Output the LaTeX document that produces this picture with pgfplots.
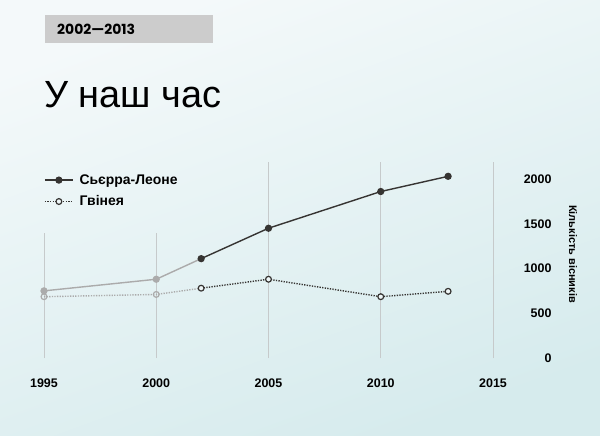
\documentclass[border=0pt]{standalone}
\usepackage{pgfplots}
\pgfplotsset{compat=1.18}
\usepackage{fontspec}
\setmainfont{Liberation Sans}
\newfontfamily\poppins{Poppins}

\definecolor{bgtop}{HTML}{F4F9FA}
\definecolor{bgbot}{HTML}{D6EBED}
\definecolor{boxgray}{HTML}{CCCCCC}
\definecolor{darkline}{HTML}{363432}
\definecolor{lightline}{HTML}{ABABAB}
\definecolor{gridc}{HTML}{C6CACB}
\definecolor{openfill}{HTML}{EEF6F7}

\begin{document}
\begin{tikzpicture}
\shade[top color=bgtop, bottom color=bgbot, shading angle=20] (0bp,0bp) rectangle (600bp,436bp);
\useasboundingbox (0bp,0bp) rectangle (600bp,436bp);
\coordinate (axorig) at (44bp,78bp);

% header box and title
\fill[boxgray] (45bp,421bp) rectangle (213bp,393bp);
\node[anchor=west, inner sep=0pt, font=\poppins\bfseries\fontsize{14}{14}\selectfont] at (57bp,407bp) {2002—2013};
\node[anchor=base west, inner sep=0pt, font=\fontsize{38}{38}\selectfont] at (44bp,328bp) {У наш час};

\begin{axis}[
    at={(axorig)}, anchor=south west,
    scale only axis, width=449bp, height=179bp,
    xmin=1995, xmax=2015, ymin=0, ymax=2000,
    clip=false,
    axis line style={draw=none},
    major tick length=0pt,
    xtick={1995,2000,2005,2010,2015},
    ytick={0,500,1000,1500,2000},
    yticklabel pos=right,
    /pgf/number format/1000 sep={},
    /pgf/number format/assume math mode=true,
    xticklabel style={font=\bfseries\fontsize{12.5}{12.5}\selectfont, anchor=base, yshift=-29.5bp},
    yticklabel style={font=\bfseries\fontsize{12.5}{12.5}\selectfont, anchor=east, xshift=62bp},
    legend style={draw=none, fill=none, at={(axis cs:1995,2075)}, anchor=north west,
        font=\bfseries\fontsize{14}{14}\selectfont, row sep=6bp, inner sep=0pt,
        nodes={inner sep=2bp},
        /tikz/every odd column/.append style={column sep=4bp}},
    legend cell align=left,
    legend image code/.code={\draw[mark repeat=2,mark phase=2] plot coordinates {(0bp,0bp) (14bp,0bp) (28bp,0bp)};},
]
% vertical grid lines
\draw[gridc, line width=0.7bp] (axis cs:1995,0) -- (axis cs:1995,1400);
\draw[gridc, line width=0.7bp] (axis cs:2000,0) -- (axis cs:2000,1400);
\draw[gridc, line width=0.7bp] (axis cs:2005,0) -- (axis cs:2005,2190);
\draw[gridc, line width=0.7bp] (axis cs:2010,0) -- (axis cs:2010,2190);
\draw[gridc, line width=0.7bp] (axis cs:2015,0) -- (axis cs:2015,2190);

% Sierra Leone, early years
\addplot[lightline, line width=1.4bp, mark=*, mark size=2.9bp, mark indices={1,2},
    mark options={fill=lightline, draw=lightline}, forget plot]
    coordinates {(1995,750) (2000,880) (2002,1110)};
% Guinea, early years
\addplot[lightline, line width=1.4bp, dash pattern=on 1.3bp off 1.3bp, mark=o, mark size=2.9bp,
    mark indices={1,2}, mark options={solid, line width=1.2bp, fill=openfill, draw=lightline}, forget plot]
    coordinates {(1995,685) (2000,710) (2002,780)};

% Sierra Leone
\addplot[darkline, line width=1.4bp, mark=*, mark size=2.9bp,
    mark options={fill=darkline, draw=darkline}]
    coordinates {(2002,1110) (2005,1450) (2010,1860) (2013,2030)};
\addlegendentry{Сьєрра-Леоне}
% Guinea
\addplot[darkline, line width=1.4bp, dash pattern=on 1.3bp off 1.3bp, mark=*, mark size=2.9bp,
    mark options={solid, line width=1.2bp, fill=openfill, draw=darkline}]
    coordinates {(2002,780) (2005,880) (2010,685) (2013,745)};
\addlegendentry{Гвінея}
\end{axis}

\node[rotate=-90, inner sep=0pt, font=\bfseries\fontsize{11}{11}\selectfont] at (573bp,182bp) {Кількість вісників};
\end{tikzpicture}
\end{document}
